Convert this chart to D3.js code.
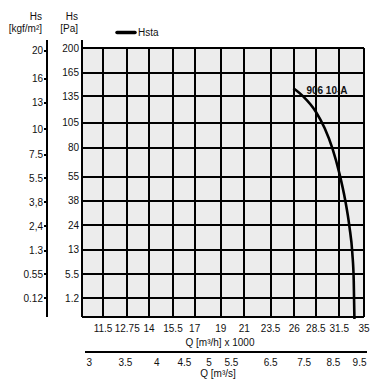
<!DOCTYPE html>
<html>
<head>
<meta charset="utf-8">
<script src="https://cdn.jsdelivr.net/npm/d3@7"></script>
<style>
  html, body { margin: 0; padding: 0; background: #fff; }
  svg { display: block; font-family: "Liberation Sans", Arial, sans-serif; }
</style>
</head>
<body>
<svg id="chart" width="382" height="388"></svg>
<script>
// ---- data ----
const flowTicks = [11.5, 12.75, 14, 15.5, 17, 19, 21, 23.5, 26, 28.5, 31.5, 35];      // Q [m³/h] x 1000
const flowSecTicks = [3, 3.5, 4, 4.5, 5, 5.5, 6.5, 7.5, 8.5, 9.5];                   // Q [m³/s]
const paTicks = [200, 165, 135, 105, 80, 55, 38, 24, 13, 5.5, 1.2];                  // Hs [Pa]
const paLabels = ["200", "165", "135", "105", "80", "55", "38", "24", "13", "5.5", "1.2"];
const kgfTicks = [20, 16, 13, 10, 7.5, 5.5, 3.8, 2.4, 1.3, 0.55, 0.12];              // Hs [kgf/m²]
const kgfLabels = ["20", "16", "13", "10", "7.5", "5.5", "3,8", "2,4", "1.3", "0.55", "0.12"];
const curveName = "906 10-A";
const curveQ = [25.9, 27.0, 28.5, 29.6, 30.6, 31.5, 32.3, 32.9, 33.3, 33.5, 33.6];   // m³/h x 1000
const curveHs = [145, 135, 117, 99, 79, 58, 38.5, 23, 11.8, 4.1, 0];                   // Pa
const legendLabel = "Hsta";

// ---- layout ----
const svg = d3.select("#chart");
const L = 82, R = 364, T = 48, B = 317;
const x = d3.scaleLog().domain([11.5, 35]).range([103, 364]);
const y = d3.scaleSqrt().domain([0, 200]).range([319, 48]);
const KGF_TO_PA = 9.81;

// plot background
svg.append("rect").attr("x", L).attr("y", T).attr("width", R - L).attr("height", B - T)
  .attr("fill", "#ececec");

const grid = svg.append("g").attr("stroke", "#000").attr("stroke-width", 1.3).attr("shape-rendering", "crispEdges");
// vertical grid
grid.selectAll("line.v").data(flowTicks).join("line")
  .attr("x1", d => Math.round(x(d))).attr("x2", d => Math.round(x(d)))
  .attr("y1", T).attr("y2", B);
// horizontal grid
grid.selectAll("line.h").data(paTicks).join("line")
  .attr("x1", L).attr("x2", R)
  .attr("y1", d => Math.round(y(d))).attr("y2", d => Math.round(y(d)));
// frame
grid.append("line").attr("x1", L).attr("x2", R).attr("y1", B).attr("y2", B);
grid.append("line").attr("x1", R).attr("x2", R).attr("y1", T).attr("y2", B);
// Pa axis line
grid.append("line").attr("x1", L).attr("x2", L).attr("y1", 40).attr("y2", B);
// kgf axis line
const KX = 47;
grid.append("line").attr("x1", KX).attr("x2", KX).attr("y1", 40).attr("y2", B);
grid.selectAll("line.k").data(kgfTicks).join("line")
  .attr("x1", KX - 3).attr("x2", KX)
  .attr("y1", d => Math.round(y(d * KGF_TO_PA))).attr("y2", d => Math.round(y(d * KGF_TO_PA)));

// Pa labels
svg.append("g").attr("font-size", 10).attr("text-anchor", "end").attr("fill", "#111")
  .selectAll("text").data(paTicks).join("text")
  .attr("x", 79).attr("y", d => y(d) + 3.5)
  .text((d, i) => paLabels[i]);
// kgf labels
svg.append("g").attr("font-size", 10).attr("text-anchor", "end").attr("fill", "#111")
  .selectAll("text").data(kgfTicks).join("text")
  .attr("x", 43).attr("y", d => y(d * KGF_TO_PA) + 3.5)
  .text((d, i) => kgfLabels[i]);

// headers
const hdr = svg.append("g").attr("font-size", 10).attr("text-anchor", "end").attr("fill", "#111");
hdr.append("text").attr("x", 42).attr("y", 20).text("Hs");
hdr.append("text").attr("x", 42).attr("y", 32).text("[kgf/m²]");
hdr.append("text").attr("x", 78).attr("y", 20).text("Hs");
hdr.append("text").attr("x", 78).attr("y", 32).text("[Pa]");

// legend
svg.append("line").attr("x1", 117).attr("x2", 135).attr("y1", 32.5).attr("y2", 32.5)
  .attr("stroke", "#000").attr("stroke-width", 3.5).attr("stroke-linecap", "round");
svg.append("text").attr("x", 138).attr("y", 36).attr("font-size", 10).attr("fill", "#111").text(legendLabel);

// flow m³/h labels
svg.append("g").attr("font-size", 10).attr("text-anchor", "middle").attr("fill", "#111")
  .selectAll("text").data(flowTicks).join("text")
  .attr("x", d => x(d)).attr("y", 332)
  .text(d => String(d));
svg.append("text").attr("x", 220).attr("y", 346).attr("font-size", 10).attr("text-anchor", "middle")
  .attr("fill", "#111").text("Q [m³/h] x 1000");

// m³/s axis
svg.append("line").attr("x1", 85).attr("x2", 367).attr("y1", 352).attr("y2", 352)
  .attr("stroke", "#000").attr("stroke-width", 1.3).attr("shape-rendering", "crispEdges");
svg.append("g").attr("font-size", 10).attr("text-anchor", "middle").attr("fill", "#111")
  .selectAll("text").data(flowSecTicks).join("text")
  .attr("x", d => x(d * 3.6) + 1).attr("y", 366)
  .text(d => String(d));
svg.append("text").attr("x", 218).attr("y", 377).attr("font-size", 10).attr("text-anchor", "middle")
  .attr("fill", "#111").text("Q [m³/s]");

// curve
const pts = curveQ.map((q, i) => [q, curveHs[i]]);
svg.append("path").datum(pts)
  .attr("d", d3.line().x(d => x(d[0])).y(d => y(d[1])).curve(d3.curveMonotoneX))
  .attr("fill", "none").attr("stroke", "#000").attr("stroke-width", 2.6);
svg.append("text").attr("x", x(curveQ[0]) + 13).attr("y", y(curveHs[0]) + 6)
  .attr("font-size", 10).attr("font-weight", "bold").attr("fill", "#111").text(curveName);
</script>
</body>
</html>
